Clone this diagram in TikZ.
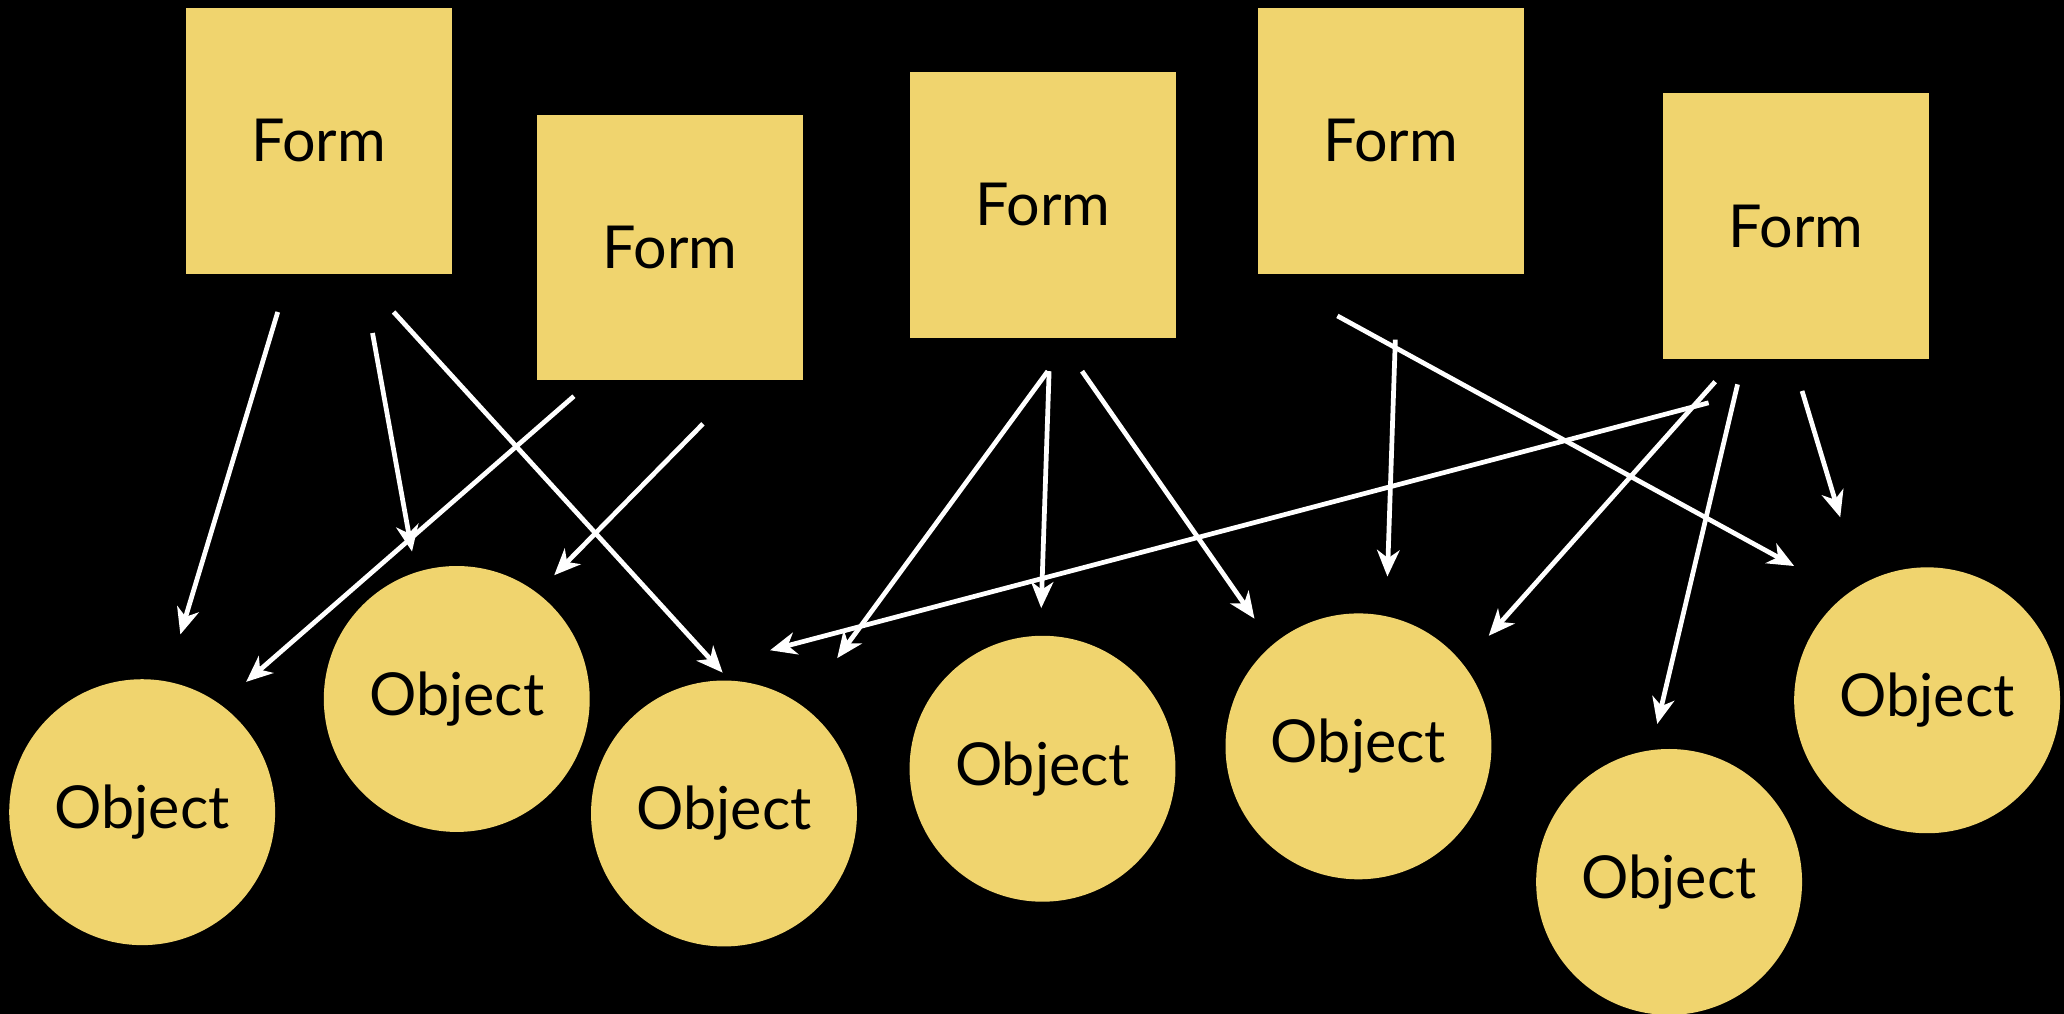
\documentclass[tikz,border=0pt]{standalone}
\usepackage{fontspec}
\setmainfont{Lato}
\usetikzlibrary{arrows.meta}
\definecolor{paper}{HTML}{F0D46E}
\begin{document}
\begin{tikzpicture}[x=1pt,y=1pt,
  formbox/.style={rectangle, fill=paper, minimum size=202pt, inner sep=0pt,
    font=\fontsize{45}{50}\selectfont, text=black},
  objcircle/.style={circle, fill=paper, minimum size=202pt, inner sep=0pt,
    font=\fontsize{45}{50}\selectfont, text=black},
  link/.style={draw=white, line width=3.6pt,
    -{Stealth[length=20pt, width=17pt, inset=6pt]}}]
\fill[black] (0,0) rectangle (1568,-770);
\useasboundingbox (0,0) rectangle (1568,-770);
% forms
\node[formbox] (f1) at (242,-107) {Form};
\node[formbox] (f2) at (509,-188) {Form};
\node[formbox] (f3) at (792.5,-155.5) {Form};
\node[formbox] (f4) at (1056.5,-107) {Form};
\node[formbox] (f5) at (1364.5,-172) {Form};
% objects
\node[objcircle] (o1) at (108,-617) {Object};
\node[objcircle] (o2) at (347,-531) {Object};
\node[objcircle] (o3) at (550,-618) {Object};
\node[objcircle] (o4) at (792,-584) {Object};
\node[objcircle] (o5) at (1032,-567) {Object};
\node[objcircle] (o6) at (1268,-670) {Object};
\node[objcircle] (o7) at (1464,-532) {Object};
% arrow end points
\coordinate (s1) at (211,-237);  \coordinate (e1) at (137,-482);
\coordinate (s2) at (283,-253);  \coordinate (e2) at (313,-419);
\coordinate (s3) at (299,-237);  \coordinate (e3) at (549,-511);
\coordinate (s4) at (436,-301);  \coordinate (e4) at (187,-518);
\coordinate (s5) at (534,-322);  \coordinate (e5) at (421,-437);
\coordinate (s6) at (796,-282);  \coordinate (e6) at (636,-500);
\coordinate (s7) at (797,-282);  \coordinate (e7) at (791,-462);
\coordinate (s8) at (822,-282);  \coordinate (e8) at (953,-470);
\coordinate (s9) at (1016,-240); \coordinate (e9) at (1363,-430);
\coordinate (s10) at (1060,-258); \coordinate (e10) at (1054,-438);
\coordinate (s11) at (1298,-306); \coordinate (e11) at (585,-494);
\coordinate (s12) at (1303,-290); \coordinate (e12) at (1131,-483);
\coordinate (s13) at (1320,-292); \coordinate (e13) at (1259,-550);
\coordinate (s14) at (1369,-297); \coordinate (e14) at (1398,-393);
\foreach \i in {1,...,14} { \draw[link] (s\i) -- (e\i); }
\end{tikzpicture}
\end{document}
